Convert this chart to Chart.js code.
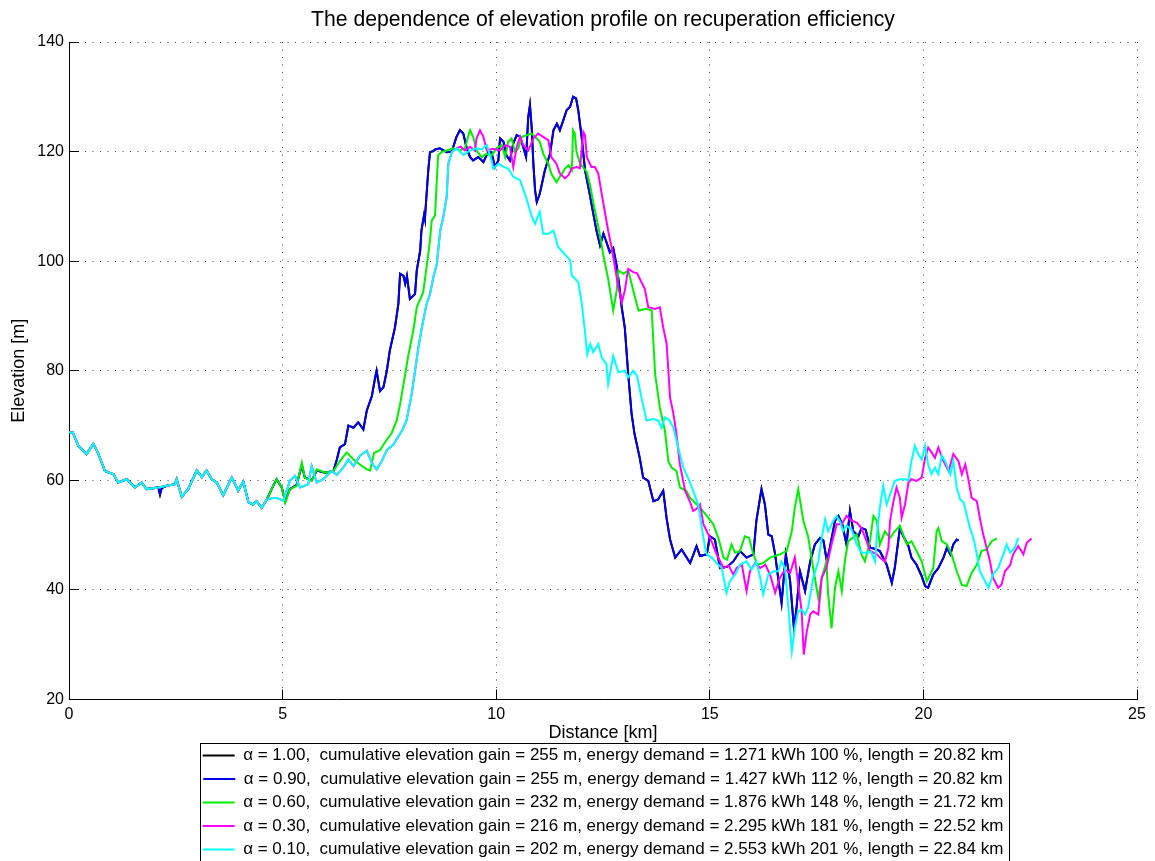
<!DOCTYPE html>
<html>
<head>
<meta charset="utf-8">
<script src="https://cdn.jsdelivr.net/npm/chart.js@4.4.1/dist/chart.umd.min.js"></script>
<style>
  html, body { margin: 0; padding: 0; background: #ffffff; }
  canvas { display: block; }
</style>
</head>
<body>
<canvas id="c" width="1155" height="861"></canvas>
<script>
// ---------------- data (distance km, elevation m) ----------------
const titleText = 'The dependence of elevation profile on recuperation efficiency';
const xTitle = 'Distance [km]';
const yTitle = 'Elevation [m]';
const xTicks = [0, 5, 10, 15, 20, 25];
const yTicks = [20, 40, 60, 80, 100, 120, 140];

const seriesLabels = [
  'α = 1.00,  cumulative elevation gain = 255 m, energy demand = 1.271 kWh 100 %, length = 20.82 km',
  'α = 0.90,  cumulative elevation gain = 255 m, energy demand = 1.427 kWh 112 %, length = 20.82 km',
  'α = 0.60,  cumulative elevation gain = 232 m, energy demand = 1.876 kWh 148 %, length = 21.72 km',
  'α = 0.30,  cumulative elevation gain = 216 m, energy demand = 2.295 kWh 181 %, length = 22.52 km',
  'α = 0.10,  cumulative elevation gain = 202 m, energy demand = 2.553 kWh 201 %, length = 22.84 km'
];
const seriesColors = ['#000000', '#0000ee', '#00f000', '#ff00ff', '#00ffff'];

// shared start of the route (all series identical here)
const startA = [[0,68.8],[0.09,68.7],[0.22,66.3],[0.41,64.8],[0.57,66.7],[0.69,64.8],[0.84,61.7],[1.04,61.1],[1.15,59.6],[1.35,60.2],[1.54,58.7],[1.70,59.6],[1.82,58.4],[2.09,58.7]];
const blueDip = [[2.13,57.4],[2.17,58.6]];
const startB = [[2.29,59.0],[2.48,59.3],[2.52,60.2],[2.64,57.0],[2.79,58.4],[2.99,61.8],[3.11,60.6],[3.22,61.8],[3.34,60.2],[3.46,59.6],[3.61,57.3],[3.81,60.5],[3.89,59.3],[3.96,58.1],[4.08,59.8],[4.20,56.0],[4.31,55.6],[4.39,56.2],[4.51,55.0],[4.63,56.5]];

const blueTail = [[4.78,59.0],[4.86,60.2],[4.98,58.7],[5.06,56.2],[5.17,58.4],[5.33,59.2],[5.45,62.8],[5.52,60.5],[5.68,60.0],[5.80,61.8],[5.99,61.4],[6.19,61.7],[6.27,63.8],[6.34,66.0],[6.46,66.6],[6.54,70.0],[6.66,69.6],[6.77,70.6],[6.89,69.3],[6.97,72.7],[7.09,75.4],[7.16,78.5],[7.20,80.0],[7.28,76.3],[7.36,77.0],[7.44,80.0],[7.51,83.7],[7.63,87.9],[7.71,92.2],[7.75,97.7],[7.83,97.3],[7.87,95.9],[7.91,97.3],[7.98,93.1],[8.10,94.0],[8.14,98.3],[8.22,101.9],[8.25,105.6],[8.31,108.4],[8.33,107.7],[8.41,116.6],[8.45,119.9],[8.53,120.1],[8.57,120.4],[8.68,120.6],[8.84,119.9],[8.96,120.0],[9.07,122.7],[9.15,123.9],[9.23,123.3],[9.31,120.6],[9.39,119.0],[9.46,118.4],[9.58,119.0],[9.70,118.1],[9.81,119.9],[9.89,119.9],[9.97,117.2],[10.05,118.4],[10.09,122.4],[10.17,121.8],[10.24,119.3],[10.32,118.4],[10.40,121.5],[10.48,123.0],[10.56,122.7],[10.63,120.9],[10.70,119.0],[10.75,126.3],[10.79,128.5],[10.83,124.5],[10.87,117.8],[10.91,112.9],[10.95,110.8],[11.02,112.3],[11.14,116.6],[11.26,119.6],[11.34,123.9],[11.42,125.1],[11.49,123.9],[11.57,125.7],[11.65,127.6],[11.73,128.2],[11.80,130.0],[11.87,129.7],[11.92,127.6],[12.00,122.7],[12.08,116.6],[12.20,111.8],[12.27,108.8],[12.35,105.5],[12.43,102.9],[12.51,105.0],[12.58,103.5],[12.66,101.6],[12.74,102.4],[12.82,99.2],[12.90,94.3],[12.94,91.5],[13.01,87.9],[13.09,79.4],[13.17,72.1],[13.24,68.4],[13.36,64.1],[13.44,60.5],[13.56,59.9],[13.68,56.2],[13.79,56.5],[13.91,58.1],[13.99,53.0],[14.07,49.2],[14.19,45.9],[14.34,47.4],[14.54,44.9],[14.69,48.0],[14.77,46.2],[14.93,46.5],[15.00,49.8],[15.12,49.2],[15.24,44.0],[15.40,44.2],[15.55,45.2],[15.71,47.1],[15.86,45.9],[16.02,46.5],[16.09,52.6],[16.21,58.4],[16.29,55.6],[16.37,50.1],[16.45,49.8],[16.53,46.5],[16.60,42.2],[16.68,37.6],[16.78,46.5],[16.88,41.6],[16.97,33.0],[17.03,36.7],[17.11,43.4],[17.23,39.8],[17.35,45.2],[17.46,48.3],[17.58,49.5],[17.66,49.0],[17.74,45.2],[17.81,47.7],[17.93,52.6],[18.01,53.5],[18.10,52.0],[18.20,48.3],[18.28,54.4],[18.36,50.7],[18.48,49.8],[18.55,51.3],[18.65,51.0],[18.75,47.7],[18.87,47.5],[18.98,47.1],[19.14,44.6],[19.26,41.3],[19.33,44.0],[19.45,51.3],[19.53,49.8],[19.65,48.0],[19.72,45.9],[19.84,44.6],[19.96,42.5],[20.04,40.7],[20.11,40.4],[20.23,42.8],[20.35,44.0],[20.47,45.9],[20.55,47.7],[20.63,46.5],[20.70,48.3],[20.78,49.2],[20.82,49.0]];

const greenTail = [[4.78,59.0],[4.86,60.2],[4.98,58.7],[5.06,55.9],[5.17,58.4],[5.33,59.0],[5.45,63.2],[5.52,60.5],[5.68,59.9],[5.80,62.0],[5.99,61.4],[6.19,61.7],[6.34,63.5],[6.50,65.1],[6.66,63.8],[6.81,62.9],[6.97,62.0],[7.05,61.8],[7.14,65.0],[7.28,65.5],[7.40,67.0],[7.55,68.6],[7.67,70.9],[7.75,73.9],[7.87,79.4],[7.94,82.7],[8.06,87.3],[8.14,91.6],[8.29,94.3],[8.37,98.9],[8.45,103.8],[8.49,107.4],[8.57,108.4],[8.61,114.8],[8.64,119.3],[8.72,119.9],[8.84,120.2],[8.99,120.6],[9.15,120.2],[9.27,120.6],[9.35,123.0],[9.39,123.9],[9.46,122.7],[9.54,120.2],[9.66,119.0],[9.77,119.6],[9.89,119.3],[10.01,120.6],[10.13,121.2],[10.21,119.0],[10.28,121.8],[10.36,122.4],[10.44,119.9],[10.52,120.6],[10.60,122.7],[10.71,123.0],[10.83,123.3],[10.95,122.4],[11.02,121.8],[11.10,119.6],[11.22,117.8],[11.29,116.0],[11.41,114.4],[11.49,115.4],[11.61,116.9],[11.69,117.5],[11.77,116.6],[11.80,123.9],[11.84,123.3],[11.88,120.0],[11.96,117.8],[12.12,116.3],[12.20,113.8],[12.27,110.8],[12.35,107.8],[12.43,104.7],[12.51,101.0],[12.62,96.8],[12.74,91.0],[12.82,94.6],[12.86,98.3],[12.98,97.7],[13.09,98.3],[13.21,94.6],[13.33,91.0],[13.52,91.3],[13.64,91.0],[13.72,79.4],[13.83,73.3],[13.95,69.0],[14.03,63.5],[14.11,62.3],[14.22,61.7],[14.30,58.7],[14.45,58.1],[14.54,56.8],[14.77,55.0],[14.93,53.5],[15.08,52.0],[15.20,49.5],[15.32,45.9],[15.40,45.5],[15.51,48.3],[15.59,46.8],[15.70,47.0],[15.82,49.8],[15.92,49.5],[16.02,46.5],[16.11,44.6],[16.25,44.9],[16.41,45.9],[16.64,46.5],[16.80,47.1],[16.92,50.7],[16.99,55.0],[17.07,58.4],[17.19,52.6],[17.30,49.8],[17.42,44.0],[17.54,38.5],[17.62,42.2],[17.73,45.2],[17.77,39.2],[17.85,33.0],[17.93,40.4],[18.01,43.4],[18.09,39.8],[18.16,45.2],[18.24,48.9],[18.44,50.1],[18.55,46.5],[18.63,45.2],[18.75,48.9],[18.83,53.5],[18.91,52.6],[18.98,48.3],[19.10,50.7],[19.22,49.5],[19.33,50.7],[19.45,51.7],[19.61,48.3],[19.72,48.9],[19.84,47.1],[19.96,45.2],[20.08,41.6],[20.16,42.8],[20.23,44.0],[20.31,50.7],[20.35,51.3],[20.43,48.9],[20.55,48.3],[20.66,46.5],[20.78,43.4],[20.90,40.9],[21.01,40.7],[21.13,43.1],[21.25,44.6],[21.36,47.1],[21.48,47.4],[21.60,48.9],[21.72,49.4]];

// climb shared by α = 0.30 and α = 0.10 (the 0.30 trace is hidden beneath)
const slowRise = [[4.78,56.8],[4.86,56.8],[5.02,56.3],[5.17,59.9],[5.29,60.8],[5.41,58.7],[5.60,59.3],[5.68,62.6],[5.80,59.6],[5.95,60.2],[6.15,61.7],[6.27,61.0],[6.42,62.3],[6.54,63.8],[6.66,62.6],[6.81,64.5],[6.97,65.4],[7.09,63.2],[7.20,62.0],[7.32,63.5],[7.44,65.5],[7.59,66.5],[7.71,68.0],[7.79,69.0],[7.90,70.9],[8.02,75.7],[8.10,80.0],[8.18,84.3],[8.26,87.9],[8.37,92.2],[8.45,94.0],[8.53,97.1],[8.61,99.5],[8.69,105.6],[8.76,108.0],[8.84,111.7],[8.88,117.8],[8.96,119.9]];

const magentaTail = [[9.07,120.6],[9.17,120.9],[9.27,120.2],[9.39,120.9],[9.50,120.2],[9.54,122.4],[9.62,123.9],[9.70,122.7],[9.78,120.2],[9.92,120.5],[10.09,120.2],[10.21,121.2],[10.32,120.9],[10.40,117.2],[10.48,120.9],[10.56,122.7],[10.63,121.2],[10.75,120.2],[10.87,122.4],[10.98,123.3],[11.10,122.7],[11.22,122.1],[11.29,119.0],[11.41,117.8],[11.49,116.0],[11.61,115.1],[11.69,115.7],[11.77,116.9],[11.88,117.2],[11.96,117.0],[12.04,123.6],[12.08,123.0],[12.12,119.0],[12.23,117.2],[12.31,117.2],[12.39,116.0],[12.47,112.3],[12.55,108.7],[12.62,105.6],[12.70,102.6],[12.78,98.9],[12.86,95.2],[12.94,92.5],[13.01,94.6],[13.09,98.6],[13.21,98.0],[13.30,97.8],[13.36,96.8],[13.48,94.9],[13.56,91.6],[13.72,91.3],[13.83,91.6],[13.91,87.9],[13.99,84.9],[14.07,75.1],[14.15,72.1],[14.22,68.4],[14.30,62.9],[14.42,58.1],[14.54,56.0],[14.61,54.4],[14.69,54.8],[14.77,55.6],[14.85,52.0],[14.93,50.7],[15.04,48.9],[15.16,46.5],[15.32,44.0],[15.44,44.5],[15.55,42.8],[15.63,44.0],[15.75,44.6],[15.86,39.8],[15.94,43.4],[16.06,44.9],[16.18,44.0],[16.30,44.6],[16.41,42.8],[16.53,39.5],[16.64,42.2],[16.76,43.7],[16.88,43.1],[16.99,45.9],[17.07,41.0],[17.15,36.1],[17.20,28.2],[17.27,32.4],[17.35,35.5],[17.42,36.1],[17.54,35.5],[17.62,42.2],[17.73,44.0],[17.85,48.3],[17.97,52.0],[18.09,52.0],[18.20,53.5],[18.31,52.7],[18.44,52.3],[18.55,51.3],[18.67,48.9],[18.75,47.1],[18.91,46.5],[18.98,45.9],[19.10,45.2],[19.18,47.7],[19.22,52.6],[19.30,56.2],[19.37,58.7],[19.45,56.8],[19.49,53.2],[19.57,55.6],[19.65,59.6],[19.72,60.2],[19.84,59.9],[19.96,60.5],[20.04,64.1],[20.11,66.0],[20.19,65.1],[20.27,64.1],[20.35,66.0],[20.47,63.5],[20.59,61.7],[20.70,64.8],[20.82,63.5],[20.90,61.1],[20.98,62.9],[21.06,59.9],[21.13,56.8],[21.25,56.2],[21.32,53.2],[21.40,50.1],[21.48,47.7],[21.56,45.2],[21.63,42.2],[21.75,40.4],[21.83,41.0],[21.91,43.4],[22.03,44.5],[22.10,46.5],[22.22,48.0],[22.34,46.5],[22.42,48.6],[22.53,49.4]];

const cyanTail = [[9.07,120.6],[9.23,119.4],[9.39,120.2],[9.54,120.6],[9.66,120.4],[9.78,121.2],[9.89,118.4],[9.93,116.9],[10.05,117.8],[10.17,117.2],[10.28,116.9],[10.40,115.4],[10.56,114.8],[10.71,111.4],[10.83,108.2],[10.91,106.8],[11.02,109.0],[11.10,105.0],[11.22,105.0],[11.34,105.6],[11.45,102.6],[11.61,101.2],[11.73,100.2],[11.77,97.4],[11.92,96.2],[12.00,92.5],[12.08,87.0],[12.13,83.0],[12.20,84.9],[12.27,83.4],[12.39,84.9],[12.47,82.4],[12.58,81.2],[12.62,77.6],[12.74,82.7],[12.86,79.7],[13.01,80.0],[13.09,78.8],[13.21,80.0],[13.30,79.0],[13.40,75.1],[13.52,70.9],[13.68,71.2],[13.79,70.9],[13.87,69.6],[13.95,71.5],[14.05,71.0],[14.15,69.6],[14.26,66.0],[14.38,62.3],[14.50,60.3],[14.61,58.1],[14.73,55.5],[14.81,51.5],[14.89,47.7],[14.93,46.5],[15.04,45.9],[15.16,44.9],[15.28,44.0],[15.39,39.5],[15.47,41.6],[15.59,42.8],[15.71,44.6],[15.86,45.2],[15.98,43.7],[16.09,45.2],[16.18,42.2],[16.25,39.2],[16.37,42.8],[16.49,43.4],[16.60,43.4],[16.68,45.2],[16.76,44.0],[16.84,36.7],[16.92,28.8],[16.99,33.0],[17.07,36.1],[17.15,36.4],[17.23,35.5],[17.30,36.7],[17.42,42.2],[17.54,45.2],[17.62,49.5],[17.70,52.9],[17.77,50.7],[17.89,52.6],[17.97,53.5],[18.05,52.5],[18.12,50.7],[18.20,51.7],[18.32,51.0],[18.44,48.3],[18.55,46.8],[18.67,46.8],[18.77,47.0],[18.87,45.2],[18.91,50.1],[18.98,55.0],[19.06,59.0],[19.14,55.6],[19.22,57.4],[19.33,59.9],[19.45,60.2],[19.57,60.2],[19.65,60.0],[19.72,63.5],[19.80,66.3],[19.88,64.8],[19.96,63.8],[20.04,66.3],[20.11,62.9],[20.19,61.1],[20.27,62.3],[20.35,61.1],[20.43,64.5],[20.51,63.5],[20.63,61.1],[20.70,63.5],[20.78,58.7],[20.86,56.5],[20.94,56.0],[21.01,53.8],[21.09,51.3],[21.17,49.5],[21.25,46.5],[21.32,43.4],[21.44,41.6],[21.52,40.4],[21.63,42.8],[21.75,44.0],[21.87,46.5],[21.95,48.3],[22.03,46.8],[22.14,47.7],[22.22,49.5]];

// ---------------- assemble series ----------------
const blueProfile = [...startA, ...blueDip, ...startB, ...blueTail];
const blackProfile = blueProfile; // α = 1.00 coincides with α = 0.90
const greenProfile = [...startA, ...startB, ...greenTail];
const magentaProfile = [...startA, ...startB, ...slowRise, ...magentaTail];
const cyanProfile = [...startA, ...startB, ...slowRise, ...cyanTail];
const profiles = [blackProfile, blueProfile, greenProfile, magentaProfile, cyanProfile];

const toXY = arr => arr.map(p => ({ x: p[0], y: p[1] }));
const datasets = profiles.map((prof, i) => ({
  label: seriesLabels[i],
  data: toXY(prof),
  borderColor: seriesColors[i],
  backgroundColor: seriesColors[i],
  borderWidth: 2,
  pointRadius: 0,
  pointHoverRadius: 0,
  tension: 0,
  fill: false,
  order: profiles.length - i   // later series drawn on top, as in the original
}));

// ---------------- styling ----------------
const FONT = "'Liberation Sans', Arial, Helvetica, sans-serif";
Chart.defaults.font.family = FONT;
Chart.defaults.color = '#000';

const gridStyle = {
  color: 'rgba(0,0,0,0.72)',
  lineWidth: 1,
  drawTicks: true,
  tickLength: -10,
  tickColor: '#000',
  tickWidth: 1
};
const borderStyle = { display: true, color: '#000', width: 1, dash: [1, 6.5] };

const legendFrame = {
  id: 'legendFrame',
  afterDraw(chart) {
    const lg = chart.legend;
    if (!lg || !lg.legendHitBoxes || !lg.legendHitBoxes.length) return;
    const hb = lg.legendHitBoxes;
    const left = Math.min(...hb.map(b => b.left)) - 3;
    const right = Math.max(...hb.map(b => b.left + b.width)) + 5;
    const top = hb[0].top - 4.5;
    const ctx = chart.ctx;
    ctx.save();
    ctx.strokeStyle = '#000';
    ctx.lineWidth = 1;
    ctx.strokeRect(Math.round(left) + 0.5, Math.round(top) + 0.5, Math.round(right - left), 140);
    ctx.restore();
  }
};

const zeroPad = s => { s.paddingLeft = 0; s.paddingRight = 0; s.paddingTop = 0; s.paddingBottom = 0; };

new Chart(document.getElementById('c'), {
  type: 'line',
  data: { datasets },
  options: {
    responsive: false,
    animation: false,
    devicePixelRatio: 1,
    events: [],
    layout: { padding: { left: 0, right: 18, top: 0, bottom: -7 } },
    plugins: {
      tooltip: { enabled: false },
      title: {
        display: true,
        text: titleText,
        fullSize: false,
        color: '#000',
        font: { size: 21.2, weight: 'normal', family: FONT },
        padding: { top: 7.4, bottom: 9.2 }
      },
      legend: {
        display: true,
        position: 'bottom',
        fullSize: false,
        labels: {
          color: '#000',
          font: { size: 17, family: FONT },
          usePointStyle: true,
          pointStyle: 'line',
          pointStyleWidth: 32,
          boxHeight: 17,
          padding: 6.5,
          sort: (a, b) => a.datasetIndex - b.datasetIndex
        }
      }
    },
    scales: {
      x: {
        type: 'linear',
        min: 0,
        max: 25,
        afterBuildTicks: s => { s.ticks = xTicks.map(v => ({ value: v })); },
        afterFit: s => { s.height = 41; zeroPad(s); },
        ticks: { color: '#000', font: { size: 16 }, padding: 15, maxRotation: 0, autoSkip: false },
        grid: gridStyle,
        border: borderStyle,
        title: { display: true, text: xTitle, color: '#000', font: { size: 18 }, padding: { top: 0, bottom: -3 } }
      },
      y: {
        type: 'linear',
        min: 20,
        max: 140,
        afterBuildTicks: s => { s.ticks = yTicks.map(v => ({ value: v })); },
        afterFit: s => { s.width = 69; zeroPad(s); },
        ticks: { color: '#000', font: { size: 16 }, padding: 15 },
        grid: gridStyle,
        border: borderStyle,
        title: { display: true, text: yTitle, color: '#000', font: { size: 18 }, padding: { top: 8.2, bottom: 0 } }
      }
    }
  },
  plugins: [legendFrame]
});
</script>
</body>
</html>
